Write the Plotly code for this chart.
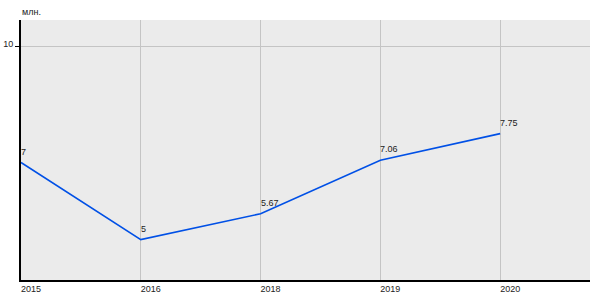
import plotly.graph_objects as go

years = ["2015", "2016", "2018", "2019", "2020"]
values = [7, 5, 5.67, 7.06, 7.75]
labels = ["7", "5", "5.67", "7.06", "7.75"]
y_ticks = [10]
y_unit = "млн."

xpos = list(range(len(years)))

fig = go.Figure()
fig.add_trace(go.Scatter(
    x=xpos, y=values, mode="lines",
    line=dict(color="#0050e6", width=1.6),
    hoverinfo="skip", showlegend=False,
))

annots = [dict(
    text=y_unit, xref="paper", yref="paper", x=0, y=1,
    xanchor="left", yanchor="bottom", yshift=1, xshift=-1,
    showarrow=False, font=dict(size=9, color="#222"),
)]
for xp, v, t in zip(xpos, values, labels):
    annots.append(dict(
        x=xp, y=v, xref="x", yref="y", text=t, showarrow=False,
        xanchor="left", yanchor="bottom", xshift=-2, yshift=4,
        font=dict(size=9, color="#222"),
    ))

fig.update_layout(
    width=600, height=300,
    margin=dict(l=21, r=10, t=20, b=20, autoexpand=False),
    paper_bgcolor="white", plot_bgcolor="#ebebeb",
    font=dict(family="Liberation Sans, Arial", size=9, color="#222"),
    annotations=annots,
)
fig.update_xaxes(
    range=[0, 4.75], tickvals=xpos, ticktext=years,
    showgrid=True, gridcolor="#c4c4c4", gridwidth=1,
    showline=True, linecolor="black", linewidth=2,
    ticks="", ticklabelshift=10, ticklabelstandoff=-1,
    zeroline=False, fixedrange=True, automargin=False,
)
fig.update_yaxes(
    range=[3.95, 10.7], tickvals=y_ticks, ticktext=[str(t) for t in y_ticks],
    showgrid=True, gridcolor="#c4c4c4", gridwidth=1,
    showline=True, linecolor="black", linewidth=2,
    ticks="outside", ticklen=4, tickcolor="black", ticklabelshift=-3,
    zeroline=False, fixedrange=True, automargin=False,
)

fig.write_html("out.html")
